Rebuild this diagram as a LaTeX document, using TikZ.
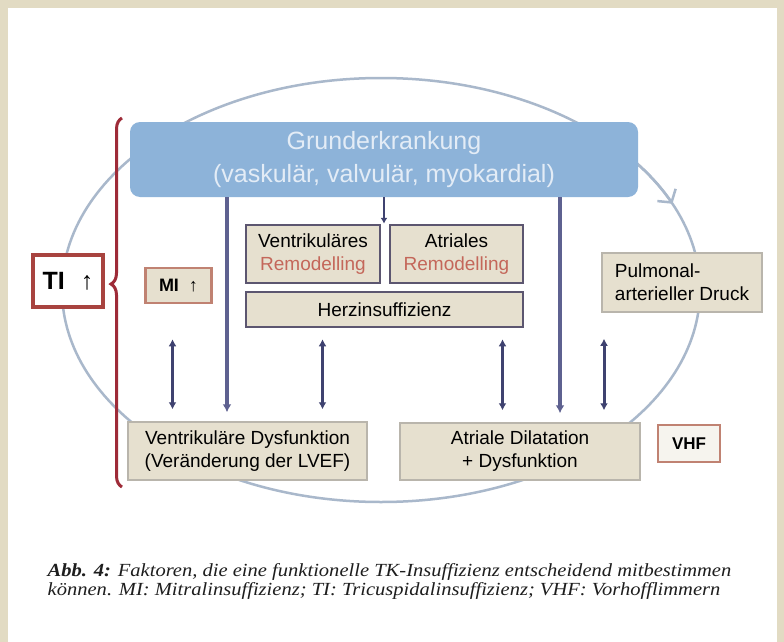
\documentclass[tikz,border=0pt]{standalone}
\usepackage{fontspec}
\setmainfont{Liberation Sans}
\newfontfamily\capfont[FakeStretch=1.11]{Liberation Serif}
\usetikzlibrary{arrows.meta,decorations.pathreplacing}
\definecolor{paper}{HTML}{E2DBC3}
\definecolor{grundblue}{HTML}{8DB3D9}
\definecolor{grundtext}{HTML}{E3ECF6}
\definecolor{boxfill}{HTML}{E6E0CF}
\definecolor{boxline}{HTML}{B9B5AC}
\definecolor{remline}{HTML}{5C5670}
\definecolor{remred}{HTML}{C4675A}
\definecolor{braced}{HTML}{9E2B38}
\definecolor{tiline}{HTML}{A8433F}
\definecolor{miline}{HTML}{C08272}
\definecolor{ringcol}{HTML}{A9B8CB}
\definecolor{longcol}{HTML}{5E6190}
\definecolor{dblcol}{HTML}{3F4270}
\definecolor{captext}{HTML}{1E1E1E}
\begin{document}
\begin{tikzpicture}[x=1pt,y=1pt,
    box/.style={draw=boxline,line width=1.5pt,fill=boxfill,inner sep=0pt,align=center,
        font=\fontsize{19}{23}\selectfont},
    rembox/.style={box,draw=remline,line width=2.5pt},
    redbox/.style={draw=tiline,line width=3.5pt,fill=white,inner sep=0pt,font=\bfseries\fontsize{25}{28}\selectfont},
    ring/.style={draw=ringcol,line width=2.5pt},
    longarrow/.style={draw=longcol,line width=3.5pt,-{Latex[length=8pt,width=9pt]}},
    dblarrow/.style={draw=dblcol,line width=3pt,{Latex[length=7pt,width=8pt]}-{Latex[length=7pt,width=8pt]}}]
    \fill[paper] (0,0) rectangle (784,-642);
    \fill[white] (8,-8) rectangle (777,-642);
    \useasboundingbox (0,0) rectangle (784,-642);
    % ring behind everything
    \coordinate (mid) at (381,-290);
    \draw[ring] (mid) ellipse [x radius=319pt, y radius=212pt];
    \draw[ring,-{Straight Barb[length=9pt,width=22pt]}] (mid) ++(40:319 and 212)
        arc[start angle=40, end angle=24, x radius=319pt, y radius=212pt];
    % boxes
    \node[fill=grundblue,rounded corners=10pt,minimum width=508pt,minimum height=75pt,align=center,
        text=grundtext,font=\fontsize{25}{33}\selectfont] (grund) at (384,-159.5)
        {Grunderkrankung\\(vaskulär, valvulär, myokardial)};
    \node[rembox,minimum width=134pt,minimum height=58pt] (vr) at (313,-254)
        {Ventrikuläres\\\textcolor{remred}{Remodelling}};
    \node[rembox,minimum width=133pt,minimum height=58pt] (ar) at (456.5,-254)
        {Atriales\\\textcolor{remred}{Remodelling}};
    \node[rembox,minimum width=277pt,minimum height=35pt] (hi) at (384.5,-309.5) {Herzinsuffizienz};
    \node[box,minimum width=160pt,minimum height=59pt,align=left] (pad) at (682,-282.5)
        {Pulmonal-\\arterieller Druck};
    \node[box,minimum width=239pt,minimum height=58pt] (vd) at (247.5,-451)
        {Ventrikuläre Dysfunktion\\(Veränderung der LVEF)};
    \node[box,minimum width=240pt,minimum height=57pt] (ad) at (520,-451.5)
        {Atriale Dilatation\\+ Dysfunktion};
    \node[redbox,draw=miline,line width=2.5pt,fill=boxfill,minimum width=66pt,minimum height=35pt,
        font=\bfseries\fontsize{18}{20}\selectfont] (mi) at (178.5,-285.5) {MI\hspace{10pt}↑};
    \node[redbox,minimum width=70pt,minimum height=52pt] (ti) at (68,-281) {TI\hspace{16pt}↑};
    \node[redbox,draw=miline,line width=2.5pt,fill=boxfill!35,minimum width=62pt,minimum height=37pt,
        font=\bfseries\fontsize{17}{20}\selectfont] (vhf) at (689,-443.5) {VHF};
    % brace
    \draw[braced,line width=3pt,decorate,decoration={brace,amplitude=11pt,aspect=0.55}]
        (122,-487) -- (122,-118);
    % arrows
    \draw[dblcol,line width=2.5pt,-{Latex[length=6pt,width=7pt]}] (grund.south) -- (grund.south |- vr.north);
    \draw[longarrow,shorten >=9pt] ([xshift=-157pt]grund.south) -- ([xshift=-157pt]grund.south |- vd.north);
    \draw[longarrow,shorten >=9pt] ([xshift=176pt]grund.south) -- ([xshift=176pt]grund.south |- ad.north);
    \draw[dblarrow,shorten <=35pt,shorten >=12pt] ([xshift=-6pt]mi.south) -- ([xshift=-6pt]mi.south |- vd.north);
    \draw[dblarrow,shorten <=11pt,shorten >=12pt] ([xshift=-62pt]hi.south) -- ([xshift=-62pt]hi.south |- vd.north);
    \draw[dblarrow,shorten <=11pt,shorten >=12pt] ([xshift=118pt]hi.south) -- ([xshift=118pt]hi.south |- ad.north);
    \draw[dblarrow,shorten <=26pt,shorten >=12pt] ([xshift=-78pt]pad.south) -- ([xshift=-78pt]pad.south |- ad.north);
    % caption
    \node[anchor=base west,align=left,inner sep=0pt,text=captext,
        font=\capfont\itshape\fontsize{18.5}{18.5}\selectfont] (cap) at (47.5,-595)
        {\textbf{Abb. 4:} Faktoren, die eine funktionelle TK-Insuffizienz entscheidend mitbestimmen\\
        können. MI: Mitralinsuffizienz; TI: Tricuspidalinsuffizienz; VHF: Vorhofflimmern};
\end{tikzpicture}
\end{document}
